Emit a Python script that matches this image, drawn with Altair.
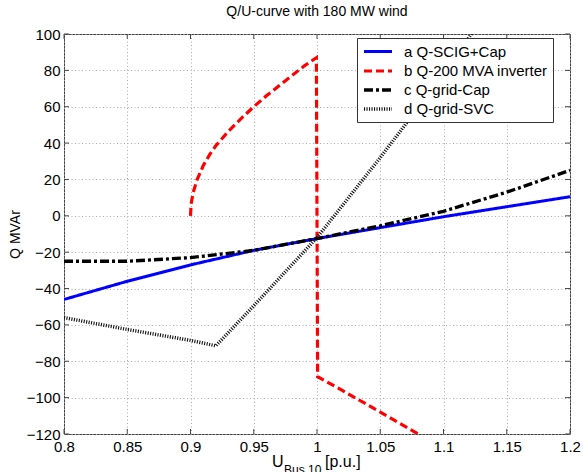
import altair as alt
import pandas as pd

# ---- data ----
series_names = ["a Q-SCIG+Cap", "b Q-200 MVA inverter", "c Q-grid-Cap", "d Q-grid-SVC"]

u_a = [0.8, 0.85, 0.9, 0.95, 1.0, 1.05, 1.1, 1.15, 1.2]
q_a = [-46, -36, -27, -19, -12.5, -6.5, -0.5, 5, 10.5]

u_b = [0.9, 0.9005, 0.902, 0.905, 0.91, 0.915, 0.92, 0.93, 0.94, 0.95, 0.96, 0.97, 0.98, 0.99, 0.9995,
       1.0005, 1.02, 1.04, 1.06, 1.08, 1.1]
q_b = [0, 6.5, 12.5, 19.5, 27.5, 33.5, 38.5, 46.5, 53.5, 60, 66, 71.5, 77, 82.5, 87,
       -88.5, -96, -104, -112, -120, -128]

u_c = [0.8, 0.85, 0.9, 0.95, 1.0, 1.05, 1.1, 1.15, 1.2]
q_c = [-25, -25, -23, -19, -12.5, -5.5, 2.5, 13, 25]

u_d = [0.8, 0.85, 0.9, 0.92, 0.95, 1.0, 1.05, 1.1, 1.13]
q_d = [-56, -62.5, -68.5, -71.5, -49.5, -12, 32, 78, 108]

x_ticks = [0.8, 0.85, 0.9, 0.95, 1.0, 1.05, 1.1, 1.15, 1.2]
y_ticks = [-120, -100, -80, -60, -40, -20, 0, 20, 40, 60, 80, 100]

title_text = "Q/U-curve with 180 MW wind"
y_title = "Q MVAr"
x_title_main = "U"
x_title_sub = "Bus 10"
x_title_unit = "[p.u.]"

# ---- build table ----
rows = []
for name, us, qs in zip(series_names, [u_a, u_b, u_c, u_d], [q_a, q_b, q_c, q_d]):
    for i, (u, q) in enumerate(zip(us, qs)):
        rows.append({"series": name, "u": u, "q": q, "i": i})
df = pd.DataFrame(rows)

FONT = "Liberation Sans"
xscale = alt.Scale(domain=[0.8, 1.2], nice=False, zero=False)
yscale = alt.Scale(domain=[-120, 100], nice=False, zero=False)

x_axis = alt.Axis(values=x_ticks, format="~g", title=None, grid=True, ticks=False,
                  domain=False, labelFontSize=15, labelFont=FONT, labelColor="black",
                  labelPadding=5, gridColor="#aaaaaa", gridDash=[1, 2.5], labelFlush=False)
y_axis = alt.Axis(values=y_ticks, title=y_title, grid=True, ticks=False, domain=False,
                  labelFontSize=15, labelFont=FONT, labelColor="black", labelPadding=4,
                  titleFontSize=14, titleFont=FONT, titleFontWeight="normal",
                  titleColor="black", titlePadding=4, gridColor="#aaaaaa",
                  gridDash=[1, 2.5], labelFlush=False)

leg = dict(title=None, orient="none", legendX=293, legendY=4, fillColor="white",
           strokeColor="#333333", padding=5, labelFontSize=15, labelFont=FONT,
           labelColor="black", symbolType="M-1,0H3", symbolSize=196, labelOffset=24,
           rowPadding=2, cornerRadius=0, labelExpr="datum.label + '   '")

lines = alt.Chart(df).mark_line(clip=True).encode(
    x=alt.X("u:Q", scale=xscale, axis=x_axis),
    y=alt.Y("q:Q", scale=yscale, axis=y_axis),
    color=alt.Color("series:N",
                    scale=alt.Scale(domain=series_names,
                                    range=["#0000ff", "#ff0000", "#000000", "#111111"]),
                    legend=alt.Legend(**leg)),
    strokeDash=alt.StrokeDash("series:N",
                              scale=alt.Scale(domain=series_names,
                                              range=[[1, 0], [8, 4], [9, 3, 3, 3], [1.1, 1.4]]),
                              legend=alt.Legend(**leg)),
    strokeWidth=alt.StrokeWidth("series:N",
                                scale=alt.Scale(domain=series_names, range=[3, 3.5, 3, 4.5]),
                                legend=alt.Legend(**leg)),
    order="i:Q",
)

tick_color = "#444444"
dfx = pd.DataFrame({"v": x_ticks})
dfy = pd.DataFrame({"v": y_ticks})
xt_bottom = alt.Chart(dfx).mark_rule(color=tick_color).encode(
    x=alt.X("v:Q", scale=xscale, axis=x_axis), y=alt.value(400), y2=alt.value(395))
xt_top = alt.Chart(dfx).mark_rule(color=tick_color).encode(
    x=alt.X("v:Q", scale=xscale, axis=x_axis), y=alt.value(0), y2=alt.value(5))
yt_left = alt.Chart(dfy).mark_rule(color=tick_color).encode(
    y=alt.Y("v:Q", scale=yscale, axis=y_axis), x=alt.value(0), x2=alt.value(5))
yt_right = alt.Chart(dfy).mark_rule(color=tick_color).encode(
    y=alt.Y("v:Q", scale=yscale, axis=y_axis), x=alt.value(506), x2=alt.value(501))

t_main = alt.Chart(pd.DataFrame({"t": [x_title_main]})).mark_text(
    align="left", baseline="alphabetic", fontSize=16, font=FONT, color="black").encode(
    text="t:N", x=alt.value(208), y=alt.value(433))
t_sub = alt.Chart(pd.DataFrame({"t": [x_title_sub]})).mark_text(
    align="left", baseline="alphabetic", fontSize=12, font=FONT, color="black").encode(
    text="t:N", x=alt.value(220), y=alt.value(440))
t_unit = alt.Chart(pd.DataFrame({"t": [x_title_unit]})).mark_text(
    align="left", baseline="alphabetic", fontSize=16, font=FONT, color="black").encode(
    text="t:N", x=alt.value(261), y=alt.value(433))

chart = alt.layer(xt_bottom, xt_top, yt_left, yt_right, lines, t_main, t_sub, t_unit).properties(
    width=506, height=400,
    background="white",
    autosize=alt.AutoSizeParams(type="none"),
    padding={"left": 64, "top": 34, "right": 13, "bottom": 38},
    title=alt.Title(title_text, fontSize=14, font=FONT, fontWeight="normal", color="black",
                    anchor="middle", offset=8),
).configure_view(
    stroke="#444444", strokeWidth=1
)

chart.save("out.html", embed_options={"renderer": "svg", "actions": False})
